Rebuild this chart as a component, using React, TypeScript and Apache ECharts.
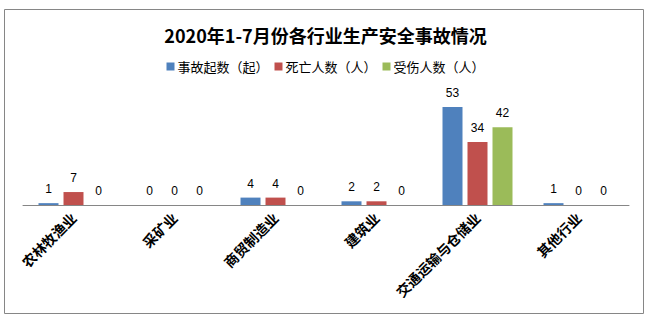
import React, { useEffect, useRef } from "react";
import * as echarts from "echarts";

const categories = ["农林牧渔业", "采矿业", "商贸制造业", "建筑业", "交通运输与仓储业", "其他行业"];
const accidents = [1, 0, 4, 2, 53, 1];
const deaths = [7, 0, 4, 2, 34, 0];
const injuries = [0, 0, 0, 0, 42, 0];
const seriesNames = ["事故起数（起）", "死亡人数（人）", "受伤人数（人）"];
const colors = ["#4F81BD", "#C0504D", "#9BBB59"];

export default function App() {
  const ref = useRef<HTMLDivElement>(null);
  useEffect(() => {
    const chart = echarts.init(ref.current!, null, { renderer: "svg" });
    const label = {
      show: true,
      position: "top",
      distance: 8,
      color: "#000",
      fontSize: 12,
      fontFamily: "Liberation Sans, Arial, sans-serif",
    };
    const datas = [accidents, deaths, injuries];
    chart.setOption({
      animation: false,
      backgroundColor: "#fff",
      graphic: [
        {
          type: "rect",
          shape: { x: 4.5, y: 9.5, width: 639, height: 304 },
          style: { fill: "none", stroke: "#868686", lineWidth: 1 },
          silent: true,
        },
      ],
      title: {
        text: "2020年1-7月份各行业生产安全事故情况",
        left: "center",
        top: 21,
        textStyle: {
          fontSize: 18,
          fontWeight: "bold",
          color: "#000",
          fontFamily: "Noto Sans CJK SC, sans-serif",
        },
      },
      legend: {
        top: 55,
        left: "center",
        itemWidth: 8,
        itemHeight: 8,
        itemGap: 6,
        icon: "rect",
        textStyle: { fontSize: 13, color: "#000", fontFamily: "Noto Sans CJK SC, sans-serif", padding: [0, 0, 0, -2] },
        data: seriesNames,
      },
      grid: { left: 23, right: 22, top: 94, bottom: 117, containLabel: false },
      xAxis: {
        type: "category",
        data: categories,
        axisLine: { lineStyle: { color: "#868686", width: 1 } },
        axisTick: { show: false },
        axisLabel: {
          rotate: 45,
          interval: 0,
          margin: 10,
          color: "#000",
          fontSize: 14,
          fontWeight: "bold",
          fontFamily: "Noto Sans CJK SC, sans-serif",
        },
      },
      yAxis: {
        type: "value",
        min: 0,
        max: 60,
        show: false,
        splitLine: { show: false },
      },
      series: seriesNames.map((name, i) => ({
        name,
        type: "bar",
        data: datas[i],
        barWidth: 20,
        barGap: "25%",
        itemStyle: { color: colors[i] },
        label,
      })),
    });
    return () => chart.dispose();
  }, []);
  return <div ref={ref} style={{ position: "fixed", left: 0, top: 0, width: 651, height: 322 }} />;
}
